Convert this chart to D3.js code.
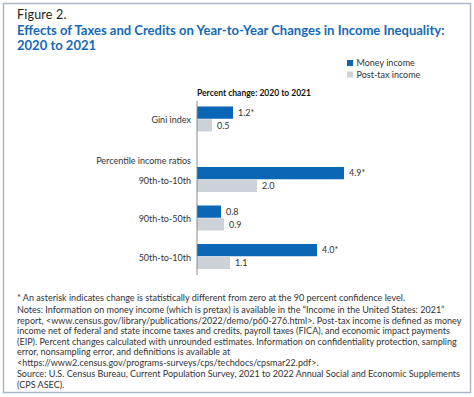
<!DOCTYPE html>
<html>
<head>
<meta charset="utf-8">
<script src="https://cdn.jsdelivr.net/npm/d3@7"></script>
<style>
  body { margin: 0; background: #fff; }
  svg text { font-family: Lato, "Open Sans", sans-serif; }
</style>
</head>
<body>
<script>
const categories = ['Gini index', '90th-to-10th', '90th-to-50th', '50th-to-10th']
const series = ['Money income', 'Post-tax income']
const moneyIncome = [1.2, 4.9, 0.8, 4.0]
const postTaxIncome = [0.5, 2.0, 0.9, 1.1]
const significant = [true, true, false, true]   // money income only
const colors = ['#0b66b5', '#cdd2d9']

const titleLines = ['Effects of Taxes and Credits on Year-to-Year Changes in Income Inequality:', '2020 to 2021']
const notes = [
    '* An asterisk indicates change is statistically different from zero at the 90 percent confidence level.',
    'Notes: Information on money income (which is pretax) is available in the \u201cIncome in the United States: 2021\u201d',
    'report, <www.census.gov/library/publications/2022/demo/p60-276.html>. Post-tax income is defined as money',
    'income net of federal and state income taxes and credits, payroll taxes (FICA), and economic impact payments',
    '(EIP). Percent changes calculated with unrounded estimates. Information on confidentiality protection, sampling',
    'error, nonsampling error, and definitions is available at',
    '<https://www2.census.gov/programs-surveys/cps/techdocs/cpsmar22.pdf>.',
    'Source: U.S. Census Bureau, Current Population Survey, 2021 to 2022 Annual Social and Economic Supplements',
    '(CPS ASEC).'
]

const m = { width: 474, height: 397 }

const svg = d3.select('body').append('svg')
    .attr('width', m.width)
    .attr('height', m.height)

svg.append('rect')
    .attr('x', 3.5).attr('y', 3.5)
    .attr('width', 467).attr('height', 389)
    .attr('fill', '#fff')
    .attr('stroke', '#a9b7ca')
    .attr('stroke-width', 1.5)

// font size that makes a text take the given width
function fit(sel, width) {
    const w = sel.node().getComputedTextLength()
    const fs = parseFloat(sel.attr('font-size'))
    return fs * width / w
}

svg.append('text')
    .attr('x', 17).attr('y', 19)
    .attr('font-size', 12.5)
    .attr('fill', '#231f20')
    .attr('letter-spacing', 0.2)
    .text('Figure 2.')

const t0 = svg.append('text')
    .attr('font-size', 12)
    .attr('font-weight', 'bold')
    .text(titleLines[0])
const titleSize = fit(t0, 428)
t0.remove()

svg.append('g').selectAll('text')
    .data(titleLines)
    .enter()
    .append('text')
    .attr('x', 17)
    .attr('y', (d, i) => 34.5 + i * 15)
    .attr('font-size', titleSize)
    .attr('font-weight', 'bold')
    .attr('fill', '#1469b8')
    .text(d => d)

// legend
const legend = svg.append('g')
    .attr('transform', 'translate(347,60)')
legend.selectAll('rect')
    .data(series)
    .enter()
    .append('rect')
    .attr('x', 0)
    .attr('y', (d, i) => i * 11.5)
    .attr('width', 6)
    .attr('height', 6)
    .attr('fill', (d, i) => colors[i])
legend.selectAll('text')
    .data(series)
    .enter()
    .append('text')
    .attr('x', 9.5)
    .attr('y', (d, i) => i * 11.5 + 3)
    .attr('dy', '0.35em')
    .attr('font-size', 9)
    .attr('fill', '#333')
    .text(d => d)

svg.append('text')
    .attr('x', 254).attr('y', 96)
    .attr('text-anchor', 'middle')
    .attr('font-size', 8.5)
    .attr('font-weight', 'bold')
    .attr('fill', '#111')
    .text('Percent change: 2020 to 2021')

// scales
const x = d3.scaleLinear()
    .domain([0, 5])
    .range([197, 347])

const y = d3.scalePoint()
    .domain(categories)
    .range([141, 256.5])

const rowY = d => y(d) - (d === 'Gini index' ? 22 : 0)

const ySub = d3.scaleBand()
    .domain(series)
    .range([-12.5, 12.5])
    .paddingInner(0.04)

const rows = categories.map((c, i) => ({
    cat: c,
    vals: [
        { s: series[0], v: moneyIncome[i], star: significant[i] },
        { s: series[1], v: postTaxIncome[i], star: false }
    ]
}))

const chart = svg.append('g')

const groups = chart.selectAll('.row')
    .data(rows)
    .enter()
    .append('g')
    .attr('class', 'row')
    .attr('transform', d => 'translate(0,' + rowY(d.cat) + ')')

groups.selectAll('rect')
    .data(d => d.vals)
    .enter()
    .append('rect')
    .attr('x', x(0))
    .attr('y', d => ySub(d.s))
    .attr('width', d => x(d.v) - x(0))
    .attr('height', ySub.bandwidth())
    .attr('fill', (d, i) => colors[i])

groups.selectAll('.val')
    .data(d => d.vals)
    .enter()
    .append('text')
    .attr('class', 'val')
    .attr('x', d => x(d.v) + 5)
    .attr('y', d => ySub(d.s) + ySub.bandwidth() / 2)
    .attr('dy', '0.35em')
    .attr('font-size', 9)
    .attr('fill', '#333')
    .text(d => d3.format('.1f')(d.v) + (d.star ? '*' : ''))

groups.append('text')
    .attr('x', 191)
    .attr('y', 1)
    .attr('dy', '0.35em')
    .attr('text-anchor', 'end')
    .attr('font-size', 9)
    .attr('fill', '#333')
    .text(d => d.cat)

chart.append('text')
    .attr('x', 191)
    .attr('y', 160.5)
    .attr('dy', '0.35em')
    .attr('text-anchor', 'end')
    .attr('font-size', 9)
    .attr('fill', '#333')
    .text('Percentile income ratios')

chart.append('line')
    .attr('x1', x(0)).attr('x2', x(0))
    .attr('y1', 101).attr('y2', 275)
    .attr('stroke', '#8a8a8a')
    .attr('stroke-width', 1)

// notes
const n0 = svg.append('text')
    .attr('font-size', 8)
    .text(notes[2])
const noteSize = fit(n0, 445)
n0.remove()

const noteY = [298, 310, 320.5, 331, 341.5, 352, 362.5, 374, 384.5]
svg.append('g').selectAll('text')
    .data(notes)
    .enter()
    .append('text')
    .attr('x', 17)
    .attr('y', (d, i) => noteY[i])
    .attr('dy', '0.35em')
    .attr('font-size', noteSize)
    .attr('fill', '#333')
    .text(d => d)
</script>
</body>
</html>
